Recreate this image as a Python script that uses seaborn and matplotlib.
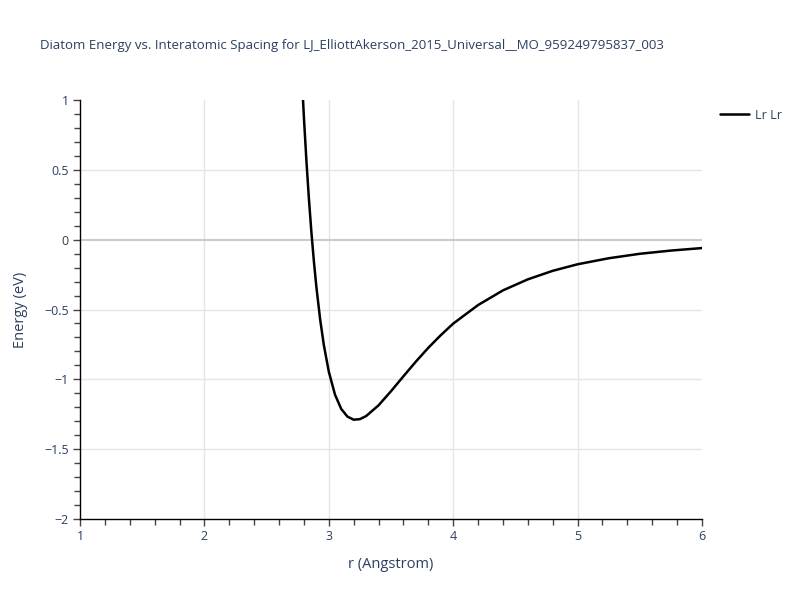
import matplotlib
matplotlib.use("Agg")
import matplotlib.pyplot as plt
from matplotlib.ticker import MultipleLocator
from matplotlib.lines import Line2D
import seaborn as sns
import pandas as pd

title = "Diatom Energy vs. Interatomic Spacing for LJ_ElliottAkerson_2015_Universal__MO_959249795837_003"
series_name = "Lr Lr"
r_values = [2.78, 2.80, 2.82, 2.84, 2.86, 2.88, 2.90, 2.93, 2.96, 3.00, 3.05, 3.10,
            3.15, 3.20, 3.25, 3.30, 3.40, 3.50, 3.60, 3.70, 3.80, 3.90, 4.00, 4.20,
            4.40, 4.60, 4.80, 5.00, 5.25, 5.50, 5.75, 6.00]
energy_values = [1.225, 0.874, 0.565, 0.294, 0.055, -0.154, -0.337, -0.568, -0.754,
                 -0.945, -1.110, -1.212, -1.267, -1.289, -1.285, -1.263, -1.186,
                 -1.085, -0.978, -0.873, -0.774, -0.684, -0.601, -0.468, -0.363,
                 -0.284, -0.223, -0.176, -0.133, -0.101, -0.078, -0.060]
x_ticks = [1, 2, 3, 4, 5, 6]
y_ticks = [1, 0.5, 0, -0.5, -1, -1.5, -2]

df = pd.DataFrame({"r": r_values, "E": energy_values, "pair": series_name})

sns.set_style("white")
plt.rcParams['font.family'] = ['Open Sans', 'DejaVu Sans']
text_color = "#2a3f5f"

fig = plt.figure(figsize=(8, 6), dpi=100)
ax = fig.add_axes([0.1, 0.135, 0.7775, 0.6983])

sns.lineplot(data=df, x="r", y="E", hue="pair", palette=["black"], linewidth=1.8,
             ax=ax, legend=False, zorder=5)

ax.set_xlim(1, 6)
ax.set_ylim(-2, 1)
ax.set_xticks(x_ticks)
ax.set_yticks(y_ticks)
ax.set_xticklabels([str(v) for v in x_ticks])
ax.set_yticklabels(["1", "0.5", "0", "\u22120.5", "\u22121", "\u22121.5", "\u22122"])
ax.xaxis.set_minor_locator(MultipleLocator(0.2))
ax.yaxis.set_minor_locator(MultipleLocator(0.1))

for v in [2, 3, 4, 5]:
    ax.axvline(v, color="#e5e5e5", linewidth=1, zorder=0)
for v in [0.5, -0.5, -1, -1.5]:
    ax.axhline(v, color="#e5e5e5", linewidth=1, zorder=0)
ax.axhline(0, color="#cccccc", linewidth=1.5, zorder=1)

for s in ["top", "right"]:
    ax.spines[s].set_visible(False)
for s in ["left", "bottom"]:
    ax.spines[s].set_color("black")
    ax.spines[s].set_linewidth(1)

ax.tick_params(axis="both", which="both", bottom=True, left=True, top=False, right=False)
ax.tick_params(axis="both", which="major", direction="out", length=5, width=1,
               color="#444444", labelsize=9, labelcolor=text_color, pad=3)
ax.tick_params(axis="both", which="minor", direction="out", length=4, width=1,
               color="#444444")

ax.set_xlabel("r (Angstrom)", fontsize=10.5, color=text_color, labelpad=10)
ax.set_ylabel("Energy (eV)", fontsize=10.5, color=text_color, labelpad=12)

fig.text(0.05, 1 - 45 / 600, title, fontsize=9.5, color=text_color, va="center", ha="left")

handle = Line2D([0], [0], color="black", linewidth=1.8)
leg = fig.legend([handle], [series_name], loc="upper left", bbox_to_anchor=(0.895, 0.825),
                 frameon=False, fontsize=9, handlelength=2.3, handletextpad=0.5,
                 borderaxespad=0, borderpad=0.3)
for t in leg.get_texts():
    t.set_color(text_color)

fig.savefig("out.png", dpi=100)
